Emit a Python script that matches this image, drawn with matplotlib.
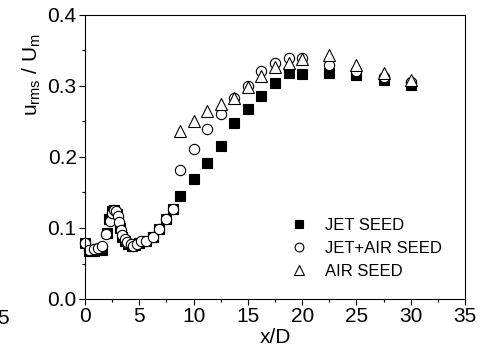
import matplotlib
matplotlib.use("Agg")
import matplotlib.pyplot as plt
from matplotlib.ticker import MultipleLocator

plt.rcParams['font.family'] = ['Liberation Sans', 'DejaVu Sans']
plt.rcParams['mathtext.fontset'] = 'custom'
plt.rcParams['mathtext.rm'] = 'Liberation Sans'
plt.rcParams['mathtext.it'] = 'Liberation Sans'

# JET SEED (filled squares)
jet_x = [0.0, 0.4, 0.8, 1.2, 1.6, 2.0, 2.2, 2.45, 2.7, 2.95, 3.2, 3.45, 3.7,
         4.0, 4.3, 4.6, 5.0, 5.6, 6.25, 6.85, 7.45, 8.1,
         8.75, 10.0, 11.25, 12.5, 13.75, 15.0, 16.25, 17.5, 18.75, 20.0,
         22.5, 25.0, 27.5, 30.0]
jet_y = [0.079, 0.067, 0.068, 0.070, 0.069, 0.093, 0.112, 0.124, 0.126, 0.120,
         0.100, 0.087, 0.081, 0.077, 0.075, 0.076, 0.079, 0.082, 0.088, 0.099,
         0.112, 0.127,
         0.145, 0.169, 0.191, 0.216, 0.248, 0.268, 0.286, 0.304, 0.319, 0.317,
         0.319, 0.316, 0.309, 0.301]

# JET+AIR SEED (open circles)
both_x = [0.0, 0.4, 0.8, 1.2, 1.6, 1.9, 2.3, 2.5, 2.7, 2.9, 3.05, 3.15, 3.3,
          3.45, 3.65, 3.9, 4.2, 4.45, 4.8, 5.2, 5.6, 6.25, 6.85, 7.45, 8.1,
          8.75, 10.0, 11.25, 12.5, 13.75, 15.0, 16.25, 17.5, 18.75, 20.0,
          22.5, 25.0, 27.5, 30.0]
both_y = [0.079, 0.069, 0.070, 0.072, 0.075, 0.091, 0.110, 0.121, 0.125, 0.124,
          0.117, 0.109, 0.097, 0.090, 0.084, 0.080, 0.077, 0.075, 0.078, 0.081,
          0.081, 0.088, 0.099, 0.112, 0.127,
          0.181, 0.211, 0.239, 0.260, 0.283, 0.300, 0.321, 0.332, 0.340, 0.340,
          0.329, 0.321, 0.313, 0.305]

# AIR SEED (open triangles)
air_x = [8.75, 10.0, 11.25, 12.5, 13.75, 15.0, 16.25, 17.5, 18.75, 20.0,
         22.5, 25.0, 27.5, 30.0]
air_y = [0.236, 0.250, 0.265, 0.275, 0.283, 0.298, 0.314, 0.327, 0.332, 0.338,
         0.343, 0.330, 0.319, 0.308]

fig = plt.figure(figsize=(4.8, 3.54), dpi=100)
ax = fig.add_axes([85 / 480, 55 / 354, 380 / 480, 284 / 354])

ax.plot(jet_x, jet_y, 's', ms=7.2, mfc='black', mec='black', mew=0.8,
        label='JET SEED', clip_on=False)
ax.plot(both_x, both_y, 'o', ms=7.4, mfc='white', mec='black', mew=0.8,
        label='JET+AIR SEED', clip_on=False)
ax.plot(air_x, air_y, '^', ms=8, mfc='white', mec='black', mew=0.8,
        label='AIR SEED', clip_on=False)

ax.set_xlim(0, 35)
ax.set_ylim(0, 0.4)
ax.xaxis.set_major_locator(MultipleLocator(5))
ax.xaxis.set_minor_locator(MultipleLocator(2.5))
ax.yaxis.set_major_locator(MultipleLocator(0.1))
ax.yaxis.set_minor_locator(MultipleLocator(0.05))
ax.yaxis.set_major_formatter(plt.FormatStrFormatter('%.1f'))
ax.tick_params(which='both', direction='out', top=False, right=False,
               labelsize=15, width=0.8)
ax.tick_params(which='major', length=4, pad=2)
ax.tick_params(which='minor', length=2.5)
for s in ax.spines.values():
    s.set_linewidth(0.8)

ax.set_xlabel('x/D', fontsize=15, labelpad=1)
ax.set_ylabel(r'u$_{\rm rms}$ / U$_{\rm m}$', fontsize=15)
ax.yaxis.set_label_coords(-0.11, 0.79)

leg = ax.legend(loc='upper left', bbox_to_anchor=(0.52, 0.31), frameon=False,
                fontsize=12, handletextpad=0.95, labelspacing=0.5,
                markerscale=0.85, handlelength=1.2, borderaxespad=0)

# clipped tick label of the neighbouring panel at the left edge
fig.text(9 / 480, 1 - 318 / 354, '5', fontsize=15, ha='right', va='center')

fig.savefig('out.png', dpi=100)
